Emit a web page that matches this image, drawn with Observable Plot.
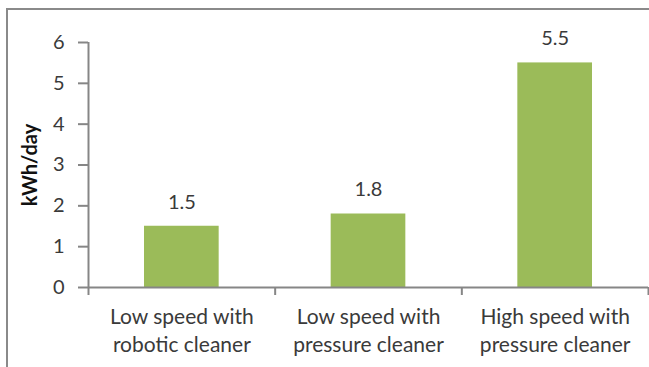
<!DOCTYPE html>
<html><head><meta charset="utf-8">
<script src="https://cdn.jsdelivr.net/npm/d3@7"></script>
<script src="https://cdn.jsdelivr.net/npm/@observablehq/plot@0.6"></script>
<style>
html,body{margin:0;padding:0;background:#fff;}
#wrap{position:relative;width:649px;height:367px;overflow:hidden;}
#frame{position:absolute;left:6px;top:8px;width:700px;height:400px;border-top:2px solid #8a8a8a;border-left:2px solid #8a8a8a;pointer-events:none;}
#chart{position:absolute;left:0;top:0;}
</style></head>
<body><div id="wrap"><div id="chart"></div><div id="frame"></div></div>
<script>
const categories = ["Low speed with\nrobotic cleaner", "Low speed with\npressure cleaner", "High speed with\npressure cleaner"];
const values = [1.5, 1.8, 5.5];
const yTicks = [0, 1, 2, 3, 4, 5, 6];
const yLabel = "kWh/day";

const data = categories.map((c, i) => ({c, v: values[i], i}));
const grey = "#868686";
const font = "Lato, 'Open Sans', sans-serif";

const chart = Plot.plot({
  width: 649, height: 367,
  marginLeft: 88, marginTop: 42, marginBottom: 80, marginRight: 1,
  style: {fontFamily: font, color: "#3a3a3a", background: "transparent"},
  x: {domain: [0, categories.length]},
  y: {domain: [0, 6]},
  marks: [
    Plot.rectY(data, {x1: d => d.i + 0.3, x2: d => d.i + 0.7, y: "v", fill: "#9BBB59"}),
    Plot.text(data, {x: d => d.i + 0.5, y: "v", text: d => d.v.toFixed(1), dy: -24, fontSize: 20, fill: "#3a3a3a"}),
    Plot.ruleY([0], {stroke: grey, strokeWidth: 2}),
    Plot.ruleX([0], {stroke: grey, strokeWidth: 2}),
    Plot.axisY({ticks: yTicks, tickFormat: d => String(d), tickSize: 10, tickPadding: 14, fontSize: 20, label: null, stroke: grey, strokeWidth: 2, strokeOpacity: 1}),
    Plot.axisX({ticks: d3.range(categories.length + 1), tickSize: 8, tickFormat: () => "", label: null, stroke: grey, strokeWidth: 2, strokeOpacity: 1}),
    Plot.text(data, {x: d => d.i + 0.5, y: 0, text: "c", lineAnchor: "top", dy: 17, fontSize: 21, lineHeight: 1.33, fill: "#3a3a3a"}),
    Plot.text([yLabel], {frameAnchor: "left", textAnchor: "middle", rotate: -90, dx: -58, fontWeight: "bold", fontSize: 20, fill: "#111"})
  ]
});
document.getElementById("chart").appendChild(chart);
</script></body></html>
